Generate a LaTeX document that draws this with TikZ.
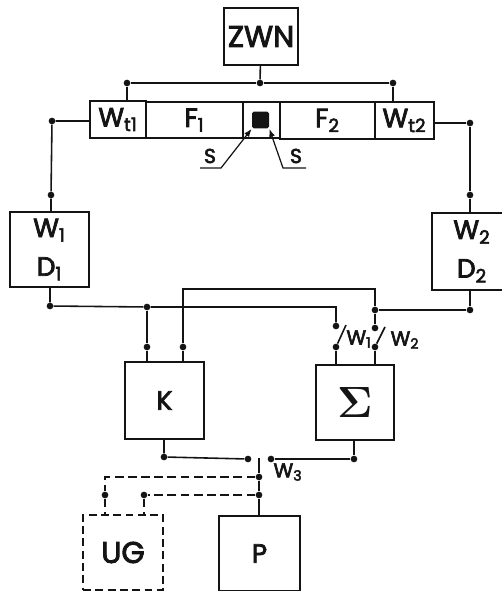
\documentclass[tikz,border=0pt]{standalone}
\usepackage{fontspec}
\usepackage{xcolor}
\usepackage{amsmath}
\usepackage{tikz}
\usetikzlibrary{arrows.meta, calc}
\setmainfont{Poppins}[BoldFont=Poppins, BoldFeatures={FakeBold=3}]
\definecolor{Ink}{HTML}{141414}

\begin{document}
\begin{tikzpicture}[
  x=0.02cm, y=-0.02cm,
  font=\fontsize{15}{17}\selectfont\bfseries,
  draw=Ink, text=Ink,
  blockbox/.style={draw=Ink, line width=1.1pt, inner sep=0pt, align=center, minimum width=1.56cm, minimum height=1.5cm},
  barbox/.style={draw=Ink, line width=1pt, inner sep=0pt, align=center, minimum height=0.73cm},
  dashbox/.style={blockbox, dash pattern=on 4.5pt off 2.5pt},
  dot/.style={circle, fill=Ink, inner sep=0pt, minimum size=3.8pt},
  wire/.style={draw=Ink, line width=0.9pt},
  dashwire/.style={wire, dash pattern=on 5pt off 2.5pt},
  label/.style={inner sep=0pt, font=\fontsize{11.5}{14}\selectfont\bfseries},
  pointer/.style={-{Latex[length=1.6mm,width=1.2mm]}, draw=Ink, line width=0.7pt}
]
\useasboundingbox (0,0) rectangle (501,591);

% blocks
\node[blockbox, minimum width=1.48cm, minimum height=1.14cm, font=\fontsize{17}{19}\selectfont\bfseries] (zwn) at (261,36.5) {ZWN};
\node[barbox, minimum width=1.12cm] (wt1) at (118,119.5) {W\textsubscript{t1}};
\node[barbox, minimum width=1.94cm] (f1) at (194.5,120) {F\textsubscript{1}};
\node[barbox, minimum width=0.74cm] (mid) at (261.5,120) {};
\node[barbox, minimum width=1.90cm] (f2) at (327.5,120.5) {F\textsubscript{2}};
\node[barbox, minimum width=1.18cm] (wt2) at (404.5,120.5) {W\textsubscript{t2}};
\node[fill=Ink, rounded corners=1pt, inner sep=0pt, minimum size=0.34cm] (core) at (260.5,120) {};

\node[blockbox, minimum width=1.58cm] (wd1) at (49.5,249.5) {W\textsubscript{1}\\[5pt]D\textsubscript{1}};
\node[blockbox, minimum width=1.6cm, minimum height=1.54cm] (wd2) at (472,251.5) {W\textsubscript{2}\\[5pt]D\textsubscript{2}};
\node[blockbox, minimum width=1.58cm, minimum height=1.54cm] (k) at (164.5,400.5) {K};
\node[blockbox] (sum) at (355,402.5) {\fontsize{24}{26}\selectfont$\boldsymbol{\Sigma}$};
\node[dashbox, minimum width=1.6cm, font=\fontsize{17}{19}\selectfont\bfseries] (ug) at (123,552.5) {UG};
\node[blockbox, minimum width=1.62cm, minimum height=1.5cm] (p) at (259.5,553.5) {P};

% junctions
\node[dot] (busl) at (127,83) {};
\node[dot] (busm) at (260,83) {};
\node[dot] (busr) at (393,83) {};
\node[dot] (la) at (52,121) {};
\node[dot] (lb) at (51,195) {};
\node[dot] (ra) at (470,123) {};
\node[dot] (rb) at (470,195) {};
\node[dot] (lc) at (50,306) {};
\node[dot] (rc) at (470,310) {};
\node[dot] (ka) at (147,307) {};
\node[dot] (kb) at (147,347) {};
\node[dot] (kc) at (183,347) {};
\node[dot] (sa) at (336,326) {};
\node[dot] (sb) at (336,347) {};
\node[dot] (sc) at (375,310) {};
\node[dot] (sd) at (375,328) {};
\node[dot] (se) at (375,347) {};
\node[dot] (kd) at (164,457) {};
\node[dot] (ke) at (248,459) {};
\node[dot] (sf) at (354,459) {};
\node[dot] (sg) at (271,459) {};
\node[dot] (pa) at (259,477) {};
\node[dot] (pb) at (259,495) {};
\node[dot] (ua) at (105,495) {};
\node[dot] (ub) at (144,495) {};

% free ends
\coordinate (w1top) at (346,325);
\coordinate (w2top) at (385,327);
\coordinate (w3top) at (259,458);
\coordinate (sleft) at (200,168);
\coordinate (sleftb) at (221,168);
\coordinate (sright) at (306,168);
\coordinate (srightb) at (283,168);

% labels
\node[label] (w1) at (359,339) {W\textsubscript{1}};
\node[label] (w2) at (405,340) {W\textsubscript{2}};
\node[label] (w3) at (288,472) {W\textsubscript{3}};
\node[label] (s1) at (210,156) {S};
\node[label] (s2) at (296,156) {S};

\draw[wire] (zwn) -- (busm);
\draw[wire] (busl) -- (busm) -- (busr);
\draw[wire] (busl) -- (busl |- wt1.north);
\draw[wire] (busr) -- (busr |- wt2.north);
\draw[wire] (wt1.west |- la) -- (la) -- (lb) -- (lb |- wd1.north);
\draw[wire, line width=1.1pt] (wt2.east |- ra) -- (ra) -- (rb) -- (rb |- wd2.north);

\draw[wire] (lc |- wd1.south) -- (lc) -- (ka) -- (sa |- ka) -- (sa);
\draw[wire] (ka) -- (kb) -- (kb |- k.north);
\draw[wire] (kc |- k.north) -- (kc) -- (kc |- 0,289) -- (sc |- 0,289) -- (sc) -- (sd);
\draw[wire] (rc |- wd2.south) -- (rc) -- (sc);
\draw[wire] (sb) -- (w1top);
\draw[wire] (se) -- (w2top);
\draw[wire] (sb) -- (sb |- sum.north);
\draw[wire] (se) -- (se |- sum.north);

\draw[wire] (kd |- k.south) -- (kd) -- (ke);
\draw[wire] (sf |- sum.south) -- (sf) -- (sg);
\draw[wire] (w3top) -- (pa) -- (pb) -- (pb |- p.north);
\draw[dashwire] (pa) -- (ua |- pa) -- (ua) -- (ua |- ug.north);
\draw[dashwire] (pb) -- (ub) -- (ub |- ug.north);

\draw[pointer] (sleft) -- (sleftb) -- (core.south west);
\draw[pointer] (sright) -- (srightb) -- (core.south east);
\end{tikzpicture}
\end{document}
